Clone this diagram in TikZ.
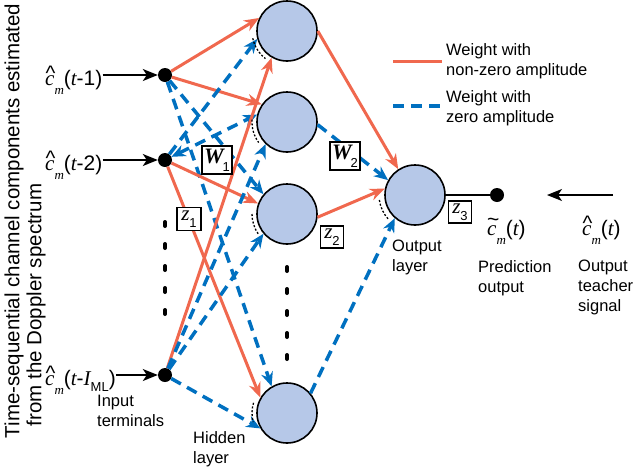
\documentclass[tikz,border=0pt]{standalone}
\usepackage{fontspec}
\setmainfont{Liberation Sans}
\newfontfamily\tnr{Liberation Serif}
\newfontfamily\ars{Liberation Sans}
\usetikzlibrary{arrows.meta,calc}

\definecolor{wred}{RGB}{240,104,78}
\definecolor{wblue}{RGB}{0,112,192}
\definecolor{nfill}{RGB}{182,200,232}

\newcommand\hatc{\mbox{\rlap{\hspace{0.02em}\raisebox{0.2em}{\ars\textasciicircum}}{\tnr\itshape c}}}
\newcommand\tilc{\mbox{\rlap{\hspace{0.0em}\raisebox{0.42em}{\ars\textasciitilde}}{\tnr\itshape c}}}
\newcommand\subm{\raisebox{-0.45em}{\fontsize{13}{13}\selectfont\tnr\itshape m}}
\newcommand\subsf[1]{\raisebox{-0.35em}{\ars\mdseries\upshape\fontsize{13}{13}\selectfont #1}}

\tikzset{
  neuron/.style={circle, draw=black, line width=1.6pt, fill=nfill, minimum size=60pt, inner sep=0pt},
  term/.style={circle, fill=black, minimum size=14pt, inner sep=0pt},
  wline/.style={wred, line width=3pt, -{Stealth[length=15pt,width=12pt]}},
  zline/.style={wblue, line width=3.5pt, dash pattern=on 11pt off 7pt, -{Stealth[length=14pt,width=12pt]}},
  inarrow/.style={black, line width=1.4pt, -{Stealth[length=15pt,width=12pt,inset=4pt]}},
  actarc/.style={black, line width=1.3pt, dash pattern=on 2pt off 1.8pt},
  vdots/.style={black, line width=4pt, line cap=round, dash pattern=on 4pt off 18pt},
  lbox/.style={draw=black, line width=1.4pt, fill=white, inner sep=0pt},
  txt/.style={font=\fontsize{16.5}{20}\selectfont, inner sep=0pt, align=left},
  mtxt/.style={font=\fontsize{21}{24}\selectfont, inner sep=0pt},
}

\begin{document}
\begin{tikzpicture}[x=1pt, y=-1pt]
\useasboundingbox (0,0) rectangle (640,469);

% neurons
\node[neuron] (H1) at (287,31) {};
\node[neuron] (H2) at (287,122) {};
\node[neuron] (H3) at (287,214) {};
\node[neuron] (H4) at (287,413) {};
\node[neuron] (O) at (415,195) {};

% terminals
\node[term] (in1) at (165,75) {};
\node[term] (in2) at (165,160) {};
\node[term] (in3) at (165,375) {};
\node[term] (od) at (497,195) {};

% input labels
\node[mtxt, anchor=base west] (l1) at (45,85) {\hatc\subm{\ars(}{\tnr\itshape t}{\ars -1)}};
\node[mtxt, anchor=base west] (l2) at (45,170) {\hatc\subm{\ars(}{\tnr\itshape t}{\ars -2)}};
\node[mtxt, anchor=base west] (l3) at (45,385) {\hatc\subm{\ars(}{\tnr\itshape t}{\ars -}{\tnr\itshape I}\raisebox{-0.3em}{\ars\fontsize{13}{13}\selectfont ML}{\ars)}};

\draw[inarrow] (l1.east |- in1) -- (in1);
\draw[inarrow] (l2.east |- in2) -- (in2);
\draw[inarrow] (l3.east |- in3) -- (in3);

% input -> hidden weights
\draw[wline] (in1) -- (H1.155);
\draw[wline] (in1) -- (H2.145);
\draw[zline] (in1) -- (H3.140);
\draw[zline] (in1) -- (H4.120);

\draw[zline] (in2) -- (H1.195);
\draw[zline, {Stealth[length=14pt,width=12pt]}-{Stealth[length=14pt,width=12pt]}] (in2) -- (H2.166);
\draw[wline] (in2) -- (H3.160);
\draw[wline] (in2) -- (H4.150);

\draw[wline] (in3) -- (H1.240);
\draw[zline] (in3) -- (H2.226);
\draw[zline] (in3) -- (H3.220);
\draw[zline] (in3) -- (H4.210);

% hidden -> output weights
\draw[wline] (H1.0) -- (O.123);
\draw[zline] (H2.355) -- (O.151);
\draw[wline] (H3.354) -- (O.168);
\draw[zline] (H4.40) -- (O.229);

% activation arcs (angles in screen orientation, y downwards)
\draw[actarc] ($(H1)+(168:35)$) arc[start angle=168, end angle=128, radius=35];
\draw[actarc] ($(H2)+(184:35)$) arc[start angle=184, end angle=144, radius=35];
\draw[actarc] ($(H3)+(180:35)$) arc[start angle=180, end angle=145, radius=35];
\draw[actarc] ($(H4)+(197:35)$) arc[start angle=197, end angle=165, radius=35];
\draw[actarc] ($(O)+(172:36)$) arc[start angle=172, end angle=138, radius=36];

% vertical ellipsis
\coordinate (d1a) at (165,222);
\coordinate (d1b) at (165,318);
\coordinate (d2a) at (287,267);
\coordinate (d2b) at (287,362);
\draw[vdots] (d1a) -- (d1b);
\draw[vdots] (d2a) -- (d2b);

% output
\draw[black, line width=1.4pt] (O) -- (od);
\coordinate (ts) at (613,195);
\coordinate (te) at (547,195);
\draw[inarrow] (ts) -- (te);

\node[mtxt, anchor=base west] (pred) at (487,235) {\tilc\subm{\ars(}{\tnr\itshape t}{\ars)}};
\node[mtxt, anchor=base west] (teach) at (582,235) {\hatc\subm{\ars(}{\tnr\itshape t}{\ars)}};

% weight boxes
\node[lbox, minimum width=30pt, minimum height=28pt] (W1) at (217,160) {\fontsize{22}{22}\selectfont\tnr\bfseries\itshape W\kern-1pt\subsf{1}};
\node[lbox, minimum width=30pt, minimum height=28pt] (W2) at (345,156) {\fontsize{22}{22}\selectfont\tnr\bfseries\itshape W\kern-1pt\subsf{2}};
\node[lbox, minimum width=24pt, minimum height=23pt] (z1) at (189,219) {\fontsize{21}{21}\selectfont\tnr\itshape z\subsf{1}};
\node[lbox, minimum width=23pt, minimum height=22pt] (z2) at (332,237) {\fontsize{21}{21}\selectfont\tnr\itshape z\subsf{2}};
\node[lbox, minimum width=23pt, minimum height=22pt] (z3) at (460,212) {\fontsize{21}{21}\selectfont\tnr\itshape z\subsf{3}};

% legend
\coordinate (lr1) at (393,61);
\coordinate (lr2) at (442,61);
\coordinate (lb1) at (393,106);
\coordinate (lb2) at (443,106);
\draw[wred, line width=3pt] (lr1) -- (lr2);
\draw[wblue, line width=3.5pt, dash pattern=on 11pt off 7pt] (lb1) -- (lb2);
\node[txt, anchor=north west] (leg1) at (446,43) {Weight with\\non-zero amplitude};
\node[txt, anchor=north west] (leg2) at (446,90) {Weight with\\zero amplitude};

% captions
\node[txt, anchor=north west] (cin) at (97,395) {Input\\terminals};
\node[txt, anchor=north west] (chid) at (193,431) {Hidden\\layer};
\node[txt, anchor=north west] (cout) at (392,240) {Output\\layer};
\node[txt, anchor=north west] (cpred) at (478,260) {Prediction\\output};
\node[txt, anchor=north west] (cteach) at (578,260) {Output\\teacher\\signal};

% rotated side text
\node[font=\fontsize{20.5}{24}\selectfont, inner sep=0pt, rotate=90] (side1) at (14,221) {Time-sequential channel components estimated};
\node[font=\fontsize{20.5}{24}\selectfont, inner sep=0pt, rotate=90] (side2) at (36,305) {from the Doppler spectrum};
\end{tikzpicture}
\end{document}
